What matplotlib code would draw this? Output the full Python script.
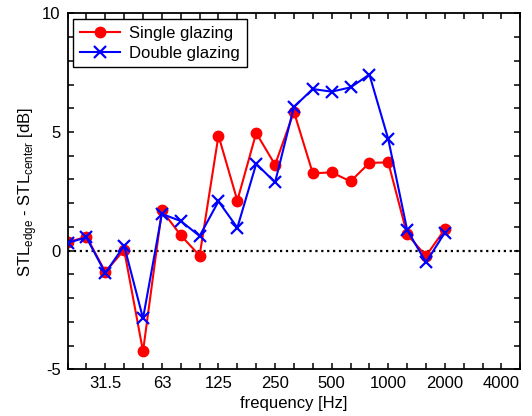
import matplotlib.pyplot as plt
import numpy as np

plt.rcParams['font.family'] = ['Liberation Sans', 'DejaVu Sans']

# third-octave bands 20 Hz ... 2000 Hz (plotted by band index)
bands = [20, 25, 31.5, 40, 50, 63, 80, 100, 125, 160, 200, 250, 315,
         400, 500, 630, 800, 1000, 1250, 1600, 2000]
single_glazing = [0.35, 0.59, -0.89, 0.03, -4.24, 1.70, 0.65, -0.21, 4.85,
                  2.11, 4.96, 3.62, 5.85, 3.26, 3.30, 2.92, 3.70, 3.72,
                  0.69, -0.22, 0.90]
double_glazing = [0.33, 0.56, -0.94, 0.21, -2.85, 1.55, 1.25, 0.62, 2.08,
                  0.97, 3.66, 2.88, 6.06, 6.81, 6.70, 6.88, 7.42, 4.70,
                  0.88, -0.49, 0.76]
tick_labels = ['31.5', '63', '125', '250', '500', '1000', '2000', '4000']


def main():
    fig = plt.figure(figsize=(5.32, 4.16), dpi=100)
    ax = fig.add_axes([0.127, 0.112, 0.851, 0.856])

    idx = np.arange(len(bands))
    ax.axhline(0, color='black', linestyle=':', linewidth=1.6, zorder=1)
    ax.plot(idx, single_glazing, color='red', marker='o', markersize=7.5,
            linewidth=1.5, label='Single glazing', zorder=2)
    ax.plot(idx, double_glazing, color='blue', marker='x', markersize=8,
            markeredgewidth=1.6, linewidth=1.5, label='Double glazing', zorder=3)

    ax.set_xlim(0, 24)
    ax.set_ylim(-5, 10)

    # a tick on every third-octave band, labels every octave
    xt = np.arange(0, 25)
    ax.set_xticks(xt)
    ax.set_xticklabels([tick_labels[(i - 2) // 3] if (i - 2) % 3 == 0 and i >= 2 else ''
                        for i in xt])
    yt = np.arange(-5, 11)
    ax.set_yticks(yt)
    ax.set_yticklabels([str(v) if v % 5 == 0 else '' for v in yt])

    ax.tick_params(direction='in', length=4, width=1.1, top=True, right=True,
                   labelsize=12, pad=5)
    for s in ax.spines.values():
        s.set_linewidth(1.3)

    ax.set_xlabel('frequency [Hz]', fontsize=12, labelpad=3)
    ax.set_ylabel(r'STL$_\mathregular{edge}$ - STL$_\mathregular{center}$ [dB]',
                  fontsize=12, labelpad=2)

    leg = ax.legend(loc='upper left', fontsize=12, numpoints=1, fancybox=False,
                    framealpha=1, edgecolor='black', borderaxespad=0.35,
                    handlelength=2.4, handletextpad=0.55, borderpad=0.4,
                    labelspacing=0.3)
    leg.get_frame().set_linewidth(1.0)

    fig.savefig('out.png', dpi=100)


if __name__ == '__main__':
    main()
